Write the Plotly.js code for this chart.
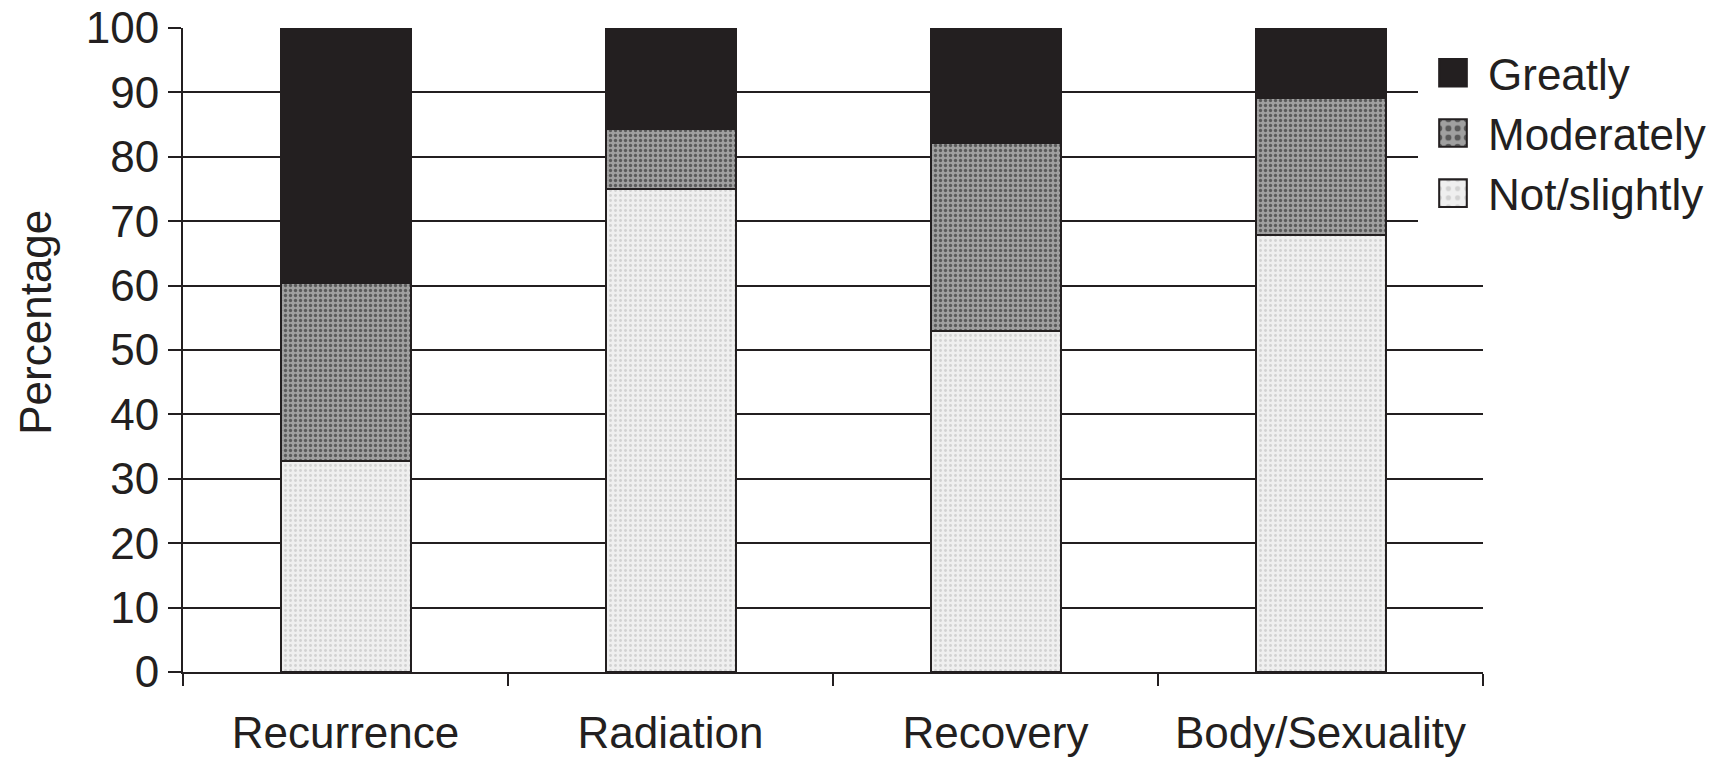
<!DOCTYPE html>
<html>
<head>
<meta charset="utf-8">
<script src="https://cdn.plot.ly/plotly-3.0.1.min.js"></script>
<style>
  html, body { margin: 0; padding: 0; background: #ffffff; }
  #chart { width: 1735px; height: 761px; }
</style>
</head>
<body>
<div id="chart"></div>
<script>
// Areas of concern and how much each one worried respondents (percent, stacked to 100)
const categories = ['Recurrence', 'Radiation', 'Recovery', 'Body/Sexuality'];
const notSlightly = [32.7, 75.0, 52.9, 67.8];
const moderately  = [27.7, 9.3, 29.3, 21.4];
const greatly     = [39.6, 15.7, 17.8, 10.8];
const yTicks = [0, 10, 20, 30, 40, 50, 60, 70, 80, 90, 100];

const ink = '#231f20';
const fontFamily = '"Liberation Sans", Arial, Helvetica, sans-serif';

function stackTrace(name, values, bg, fg, solidity) {
  return {
    type: 'bar',
    name: name,
    x: categories,
    y: values,
    width: 0.4,
    hoverinfo: 'x+y+name',
    marker: {
      color: bg,
      line: { color: ink, width: 2 },
      pattern: fg ? { shape: '.', bgcolor: bg, fgcolor: fg, size: 5, solidity: solidity, fillmode: 'replace' } : undefined
    }
  };
}

const traces = [
  stackTrace('Not/slightly', notSlightly, '#efefef', '#d2d2d2', 0.25),
  stackTrace('Moderately', moderately, '#a0a0a0', '#5a5a5a', 0.35),
  stackTrace('Greatly', greatly, ink, null, 0)
];

const layout = {
  width: 1735,
  height: 761,
  margin: { l: 183, r: 252, t: 28, b: 89, pad: 0, autoexpand: false },
  paper_bgcolor: '#ffffff',
  plot_bgcolor: '#ffffff',
  barmode: 'stack',
  font: { family: fontFamily, size: 44, color: ink },
  xaxis: {
    type: 'category',
    categoryorder: 'array',
    categoryarray: categories,
    range: [-0.5, 3.5],
    tickson: 'boundaries',
    ticks: 'outside',
    ticklen: 12,
    tickwidth: 2,
    tickcolor: ink,
    ticklabelstandoff: 21,
    showline: true,
    linecolor: ink,
    linewidth: 2,
    showgrid: false,
    zeroline: false,
    automargin: false,
    tickfont: { family: fontFamily, size: 44, color: ink },
    fixedrange: true
  },
  yaxis: {
    range: [0, 100],
    tickmode: 'array',
    tickvals: yTicks,
    ticktext: yTicks.map(String),
    ticks: 'outside',
    ticklen: 13,
    tickwidth: 2,
    tickcolor: ink,
    showline: true,
    linecolor: ink,
    linewidth: 2,
    showgrid: true,
    gridcolor: ink,
    gridwidth: 2,
    zeroline: false,
    automargin: false,
    tickfont: { family: fontFamily, size: 44, color: ink },
    fixedrange: true
  },
  legend: {
    x: 0.95,
    xanchor: 'left',
    y: 0.985,
    yanchor: 'top',
    traceorder: 'reversed',
    bgcolor: '#ffffff',
    borderwidth: 0,
    itemwidth: 60,
    font: { family: fontFamily, size: 44, color: ink }
  },
  annotations: [{
    text: 'Percentage',
    textangle: -90,
    xref: 'paper', yref: 'paper',
    x: -0.1135, y: 0.543,
    xanchor: 'center', yanchor: 'middle',
    showarrow: false,
    font: { family: fontFamily, size: 44, color: ink }
  }],
  showlegend: true
};

Plotly.newPlot('chart', traces, layout, { displayModeBar: false, staticPlot: true }).then(function () {
  // enlarge the legend swatches to the size of the printed key boxes
  document.querySelectorAll('.legend .legendpoints path').forEach(function (p) {
    const t = p.getAttribute('transform') || '';
    p.setAttribute('transform', t + ' scale(2.3)');
    p.style.strokeWidth = '0.9px';
  });
});
</script>
</body>
</html>
